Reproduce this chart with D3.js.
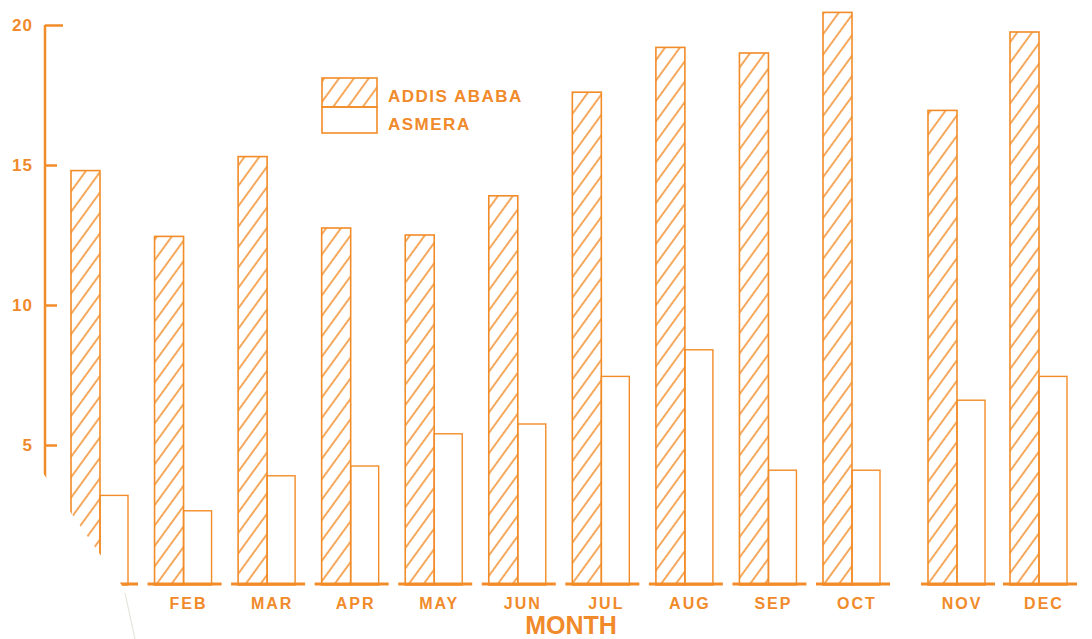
<!DOCTYPE html>
<html>
<head>
<meta charset="utf-8">
<script src="https://cdn.jsdelivr.net/npm/d3@7"></script>
<style>
  html, body { margin: 0; padding: 0; background: #fff; }
  svg { display: block; }
  text { font-family: "Liberation Sans", Arial, sans-serif; fill: #f08a2a; }
</style>
</head>
<body>
<svg id="chart" width="1092" height="639"></svg>
<script>
const months = ["JAN","FEB","MAR","APR","MAY","JUN","JUL","AUG","SEP","OCT","NOV","DEC"];
const addisAbaba = [14.8, 12.45, 15.3, 12.75, 12.5, 13.9, 17.6, 19.2, 19.0, 20.45, 16.95, 19.75];
const asmera     = [3.2, 2.65, 3.9, 4.25, 5.4, 5.75, 7.45, 8.4, 4.1, 4.1, 6.6, 7.45];
const seriesNames = ["ADDIS ABABA", "ASMERA"];
const yTicks = [5, 10, 15, 20];
const axisTitle = "MONTH";

const C = "#f28c28";
const svg = d3.select("#chart");

const defs = svg.append("defs");
const pat = defs.append("pattern")
  .attr("id", "hatch")
  .attr("patternUnits", "userSpaceOnUse")
  .attr("width", 12).attr("height", 12)
  .attr("patternTransform", "rotate(36)");
pat.append("line")
  .attr("x1", 2).attr("y1", -2).attr("x2", 2).attr("y2", 14)
  .attr("stroke", C).attr("stroke-width", 1.5);

const y = d3.scaleLinear().domain([0, 20]).range([585, 25]);
// month index -> left edge of the pair (extra gap before NOV in the original)
const x = d3.scaleLinear().domain([0, 9, 10, 11]).range([71, 823, 928, 1010]);
const bw = 29;

// y axis
const yAxis = d3.axisLeft(y).tickValues(yTicks).tickSizeInner(-12).tickSizeOuter(0).tickPadding(12).tickFormat(d3.format("d"));
const gy = svg.append("g").attr("transform", "translate(45,0)").call(yAxis);
gy.select(".domain").attr("stroke", C).attr("stroke-width", 2.5)
  .attr("d", `M0,${y(20)}V${y(0)}`);
gy.selectAll(".tick line").attr("stroke", C).attr("stroke-width", 2.5);
gy.selectAll(".tick").filter(d => d === 20).select("line").attr("x2", 18);
gy.selectAll(".tick text").style("font-size", "17px").style("font-weight", "bold")
  .style("letter-spacing", "1px").attr("fill", C);

const idx = d3.range(months.length);

// baselines per month
svg.append("g").selectAll("line").data(idx).join("line")
  .attr("x1", i => x(i) - 7).attr("x2", i => x(i) + 2 * bw + 9)
  .attr("y1", y(0) - 1).attr("y2", y(0) - 1)
  .attr("stroke", C).attr("stroke-width", 3);

// Addis Ababa bars (hatched)
svg.append("g").selectAll("rect").data(idx).join("rect")
  .attr("x", i => x(i)).attr("width", bw)
  .attr("y", i => y(addisAbaba[i])).attr("height", i => y(0) - y(addisAbaba[i]))
  .attr("fill", "url(#hatch)").attr("stroke", C).attr("stroke-width", 1.6);

// Asmera bars (open)
svg.append("g").selectAll("rect").data(idx).join("rect")
  .attr("x", i => x(i) + bw).attr("width", bw - 1)
  .attr("y", i => y(asmera[i])).attr("height", i => y(0) - y(asmera[i]))
  .attr("fill", "none").attr("stroke", C).attr("stroke-width", 1.4);

// month labels
svg.append("g").selectAll("text").data(idx.slice(1)).join("text")
  .attr("x", i => x(i) + bw + 5).attr("y", 609)
  .attr("text-anchor", "middle")
  .style("font-size", "16px").style("font-weight", "bold").style("letter-spacing", "2px")
  .text(i => months[i]);

svg.append("text").attr("x", 571).attr("y", 634).attr("text-anchor", "middle")
  .style("font-size", "25px").style("font-weight", "bold").text(axisTitle);

// torn corner of the scanned page (bottom-left), from axis end to JAN baseline
const cutA = [45, y(4)], cutB = [x(0) + 2 * bw - 6, y(0) + 2];
svg.append("polygon")
  .attr("points", [[0, cutA[1] + 8], [cutA[0] - 2, cutA[1]], cutB, [cutB[0] + 8, 639], [0, 639]].map(p => p.join(",")).join(" "))
  .attr("fill", "#fff");
svg.append("line").attr("x1", cutB[0] + 2).attr("y1", cutB[1] + 6).attr("x2", cutB[0] + 12).attr("y2", 639)
  .attr("stroke", "#e6e6e0").attr("stroke-width", 1.2);

// legend
const lg = svg.append("g").attr("transform", "translate(322,78)");
lg.append("rect").attr("width", 55).attr("height", 29).attr("fill", "url(#hatch)").attr("stroke", C).attr("stroke-width", 1.6);
lg.append("rect").attr("y", 29).attr("width", 55).attr("height", 26).attr("fill", "none").attr("stroke", C).attr("stroke-width", 1.6);
lg.selectAll("text").data(seriesNames).join("text")
  .attr("x", 66).attr("y", (d, i) => 24 + i * 28)
  .style("font-size", "17px").style("font-weight", "bold").style("letter-spacing", "1.5px")
  .text(d => d);
</script>
</body>
</html>
